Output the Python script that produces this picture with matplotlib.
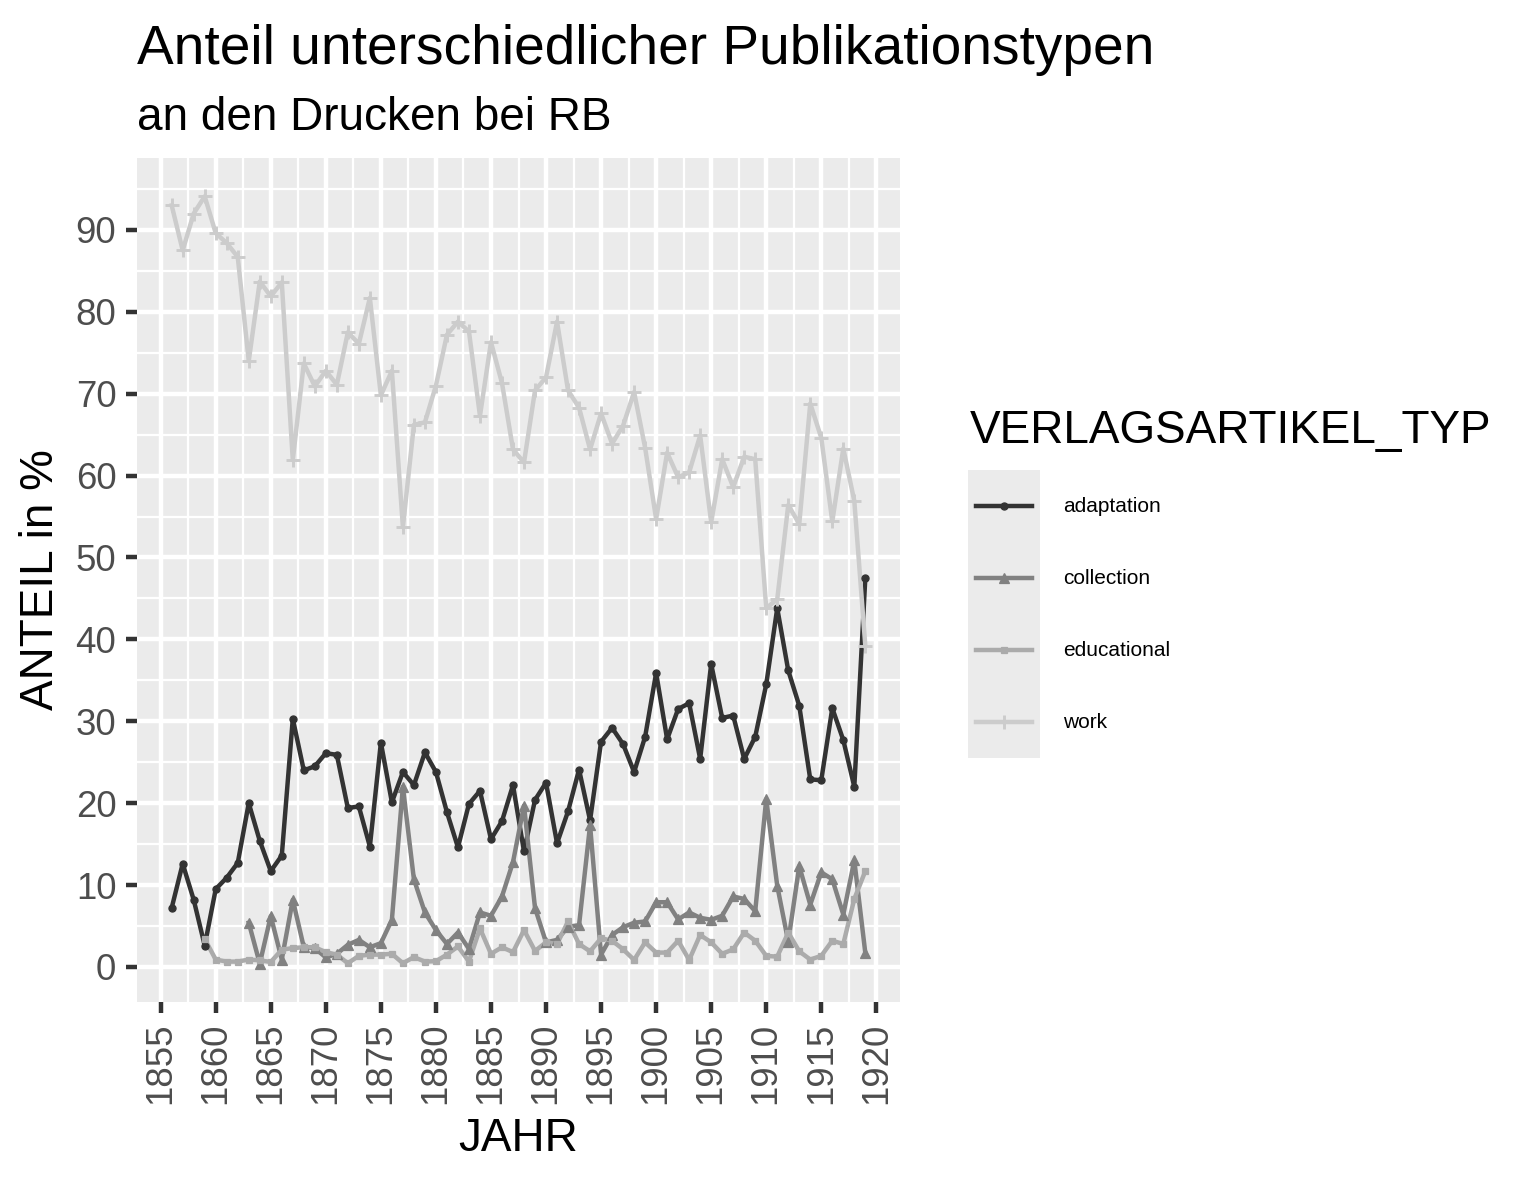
import matplotlib
matplotlib.use("Agg")
import matplotlib.pyplot as plt
from matplotlib.ticker import MultipleLocator

plt.rcParams['font.family'] = ['Liberation Sans', 'DejaVu Sans']

# data (percent of prints per year)
years_adaptation = list(range(1856, 1920))
adaptation = [7.2, 12.6, 8.2, 2.6, 9.5, 10.9, 12.7, 20.0, 15.4, 11.7,
              13.6, 30.3, 24.0, 24.5, 26.1, 25.9, 19.4, 19.6, 14.7, 27.4,
              20.1, 23.8, 22.2, 26.2, 23.8, 18.9, 14.6, 19.9, 21.5, 15.6,
              17.8, 22.2, 14.1, 20.4, 22.5, 15.1, 19.0, 24.1, 17.9, 27.5,
              29.2, 27.2, 23.8, 28.1, 35.9, 27.8, 31.5, 32.2, 25.4, 37.0,
              30.4, 30.7, 25.4, 28.1, 34.5, 43.8, 36.2, 31.9, 22.9, 22.8,
              31.6, 27.7, 22.0, 47.5]

years_collection = list(range(1863, 1920))
collection = [5.4, 0.4, 6.2, 0.9, 8.2, 2.4, 2.3, 1.15, 1.6, 2.7,
              3.3, 2.4, 2.9, 5.75, 22.0, 10.7, 6.65, 4.5, 2.8, 4.2,
              2.2, 6.65, 6.25, 8.6, 12.8, 19.7, 7.2, 3.0, 3.3, 4.9,
              5.1, 17.3, 1.5, 3.9, 4.85, 5.4, 5.55, 7.9, 7.9, 5.8,
              6.65, 6.0, 5.75, 6.25, 8.6, 8.3, 6.8, 20.5, 9.9, 3.1,
              12.3, 7.6, 11.55, 10.7, 6.4, 13.0, 1.7]

years_educational = list(range(1859, 1920))
educational = [3.4, 0.9, 0.65, 0.65, 0.9, 0.8, 0.6, 2.1, 2.3, 2.4,
               2.4, 1.8, 1.5, 0.45, 1.35, 1.5, 1.5, 1.6, 0.45, 1.2,
               0.65, 0.7, 1.5, 2.5, 0.65, 4.7, 1.6, 2.4, 1.8, 4.5,
               1.95, 3.0, 2.8, 5.55, 2.8, 1.9, 3.5, 3.2, 2.15, 0.85,
               3.0, 1.75, 1.75, 3.2, 0.85, 3.9, 3.0, 1.6, 2.15, 4.2,
               3.2, 1.35, 1.25, 4.2, 1.9, 0.9, 1.35, 3.2, 2.8, 8.3,
               11.7]

years_work = list(range(1856, 1920))
work = [93.0, 87.5, 92.0, 94.1, 89.6, 88.4, 86.7, 74.0, 83.7, 81.9,
        83.6, 61.9, 73.7, 70.9, 72.8, 71.1, 77.5, 76.1, 81.7, 69.8,
        72.8, 53.7, 66.2, 66.5, 71.0, 77.2, 78.8, 77.6, 67.3, 76.3,
        71.3, 63.2, 61.6, 70.4, 72.0, 78.8, 70.4, 68.3, 63.2, 67.6,
        63.9, 66.1, 70.2, 63.4, 54.7, 62.8, 59.8, 60.4, 64.9, 54.3,
        62.0, 58.6, 62.3, 62.0, 43.8, 44.9, 56.4, 54.1, 68.8, 64.6,
        54.4, 63.3, 56.9, 39.2]

types = ['adaptation', 'collection', 'educational', 'work']
series = {
    'adaptation': (years_adaptation, adaptation),
    'collection': (years_collection, collection),
    'educational': (years_educational, educational),
    'work': (years_work, work),
}
colors = {'adaptation': '#333333', 'collection': '#818181',
          'educational': '#ABABAB', 'work': '#CCCCCC'}
markers = {'adaptation': ('o', 1.7, 0.3), 'collection': ('^', 2.3, 0.3),
           'educational': ('s', 1.5, 0.3), 'work': ('+', 3.2, 0.7)}

W, H = 1535, 1181
fig = plt.figure(figsize=(W / 300, H / 300), dpi=300)
ax = fig.add_axes([137 / W, 1 - 1002 / H, (900 - 137) / W, (1002 - 158) / H])
ax.set_facecolor('#EBEBEB')
for s in ax.spines.values():
    s.set_visible(False)

lw = 1.07
for t in types:
    xs, ys = series[t]
    ax.plot(xs, ys, color=colors[t], lw=lw, zorder=2, solid_joinstyle='round')
for t in types:
    xs, ys = series[t]
    m, ms, mew = markers[t]
    ax.plot(xs, ys, linestyle='none', marker=m, markersize=ms,
            markeredgewidth=mew, color=colors[t], zorder=3)

# ggplot-like expansion of 5%
allx = [x for t in types for x in series[t][0]]
ally = [y for t in types for y in series[t][1]]
px = 0.05 * (max(allx) - min(allx))
py = 0.05 * (max(ally) - min(ally))
ax.set_xlim(min(allx) - px, max(allx) + px)
ax.set_ylim(min(ally) - py, max(ally) + py)

ax.xaxis.set_major_locator(MultipleLocator(5))
ax.xaxis.set_minor_locator(MultipleLocator(2.5))
ax.yaxis.set_major_locator(MultipleLocator(10))
ax.yaxis.set_minor_locator(MultipleLocator(5))
ax.set_axisbelow(True)
ax.grid(which='major', color='white', lw=lw)
ax.grid(which='minor', color='white', lw=lw / 2)
ax.tick_params(which='major', length=2.75, width=lw, color='#333333',
               labelsize=8.8, labelcolor='#4D4D4D', pad=2.2)
ax.tick_params(which='minor', length=0)
plt.setp(ax.get_xticklabels(), rotation=90)

ax.set_xlabel('JAHR', fontsize=11, labelpad=3)
ax.set_ylabel('ANTEIL in %', fontsize=11, labelpad=3)

fig.text(137 / W, 1 - 64 / H, 'Anteil unterschiedlicher Publikationstypen',
         fontsize=13.2, va='baseline')
fig.text(137 / W, 1 - 130 / H, 'an den Drucken bei RB', fontsize=11,
         va='baseline')

# legend drawn like ggplot: grey key column with line + point
fig.text(970 / W, 1 - 443 / H, 'VERLAGSARTIKEL_TYP', fontsize=11,
         va='baseline')
lax = fig.add_axes([968 / W, 1 - 758 / H, 72 / W, 288 / H])
lax.set_facecolor('#EBEBEB')
lax.set_xlim(0, 1)
lax.set_ylim(len(types), 0)
lax.set_xticks([])
lax.set_yticks([])
for s in lax.spines.values():
    s.set_visible(False)
for i, t in enumerate(types):
    m, ms, mew = markers[t]
    lax.plot([0.11, 0.89], [i + 0.5, i + 0.5], color=colors[t], lw=lw)
    lax.plot([0.5], [i + 0.5], marker=m, markersize=ms, markeredgewidth=mew,
             color=colors[t])
    lax.text(1.32, i + 0.5, t, fontsize=5, va='center', ha='left',
             transform=lax.transData, clip_on=False)

fig.savefig('out.png', dpi=300, facecolor='white')
